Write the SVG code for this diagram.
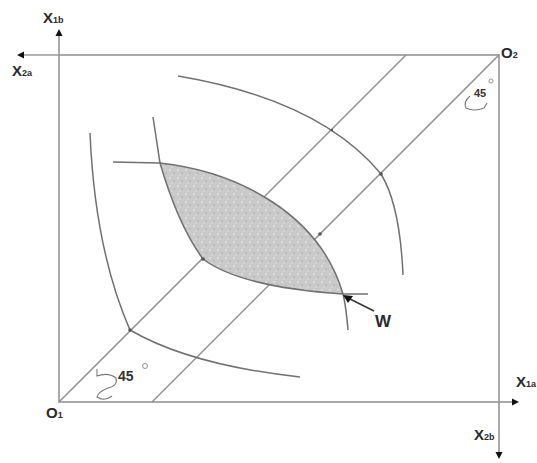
<svg xmlns="http://www.w3.org/2000/svg" width="537" height="463" viewBox="0 0 537 463">
<style>
.ln{fill:none;stroke:#8f8f8f;stroke-width:1.5}
.ax{fill:none;stroke:#9a9a9a;stroke-width:1.7}
.cv{fill:none;stroke:#707070;stroke-width:1.5}
.lbl{font-family:"Liberation Sans",Arial,sans-serif;font-size:15px;font-weight:bold;fill:#2a2a2a}
.sub{font-size:9px}
.ang{font-family:"Liberation Sans",Arial,sans-serif;font-size:14px;font-weight:bold;fill:#333}
.dot{fill:#555}
.hd{fill:#111}
</style>
<defs>
<pattern id="speck" width="8" height="8" patternUnits="userSpaceOnUse">
<rect width="8" height="8" fill="#c9c9c9"/>
<circle cx="2" cy="2" r="1" fill="#e2e2e2"/>
<circle cx="6" cy="5" r="0.9" fill="#b8b8b8"/>
<circle cx="4" cy="7" r="0.8" fill="#dedede"/>
</pattern>
</defs>
<rect width="537" height="463" fill="#fff"/>
<g id="box">
<rect class="ax" x="59" y="55" width="440" height="347"/>
<line class="ax" x1="59" y1="55" x2="59" y2="32"/>
<line class="ax" x1="59" y1="55" x2="20" y2="55"/>
<line class="ax" x1="499" y1="402" x2="516" y2="402"/>
<line class="ax" x1="499" y1="402" x2="499" y2="456"/>
<path class="hd" d="M59,29 L55.5,36 L62.5,36 Z"/>
<path class="hd" d="M17,55 L24,51.5 L24,58.5 Z"/>
<path class="hd" d="M519,402 L512,398.5 L512,405.5 Z"/>
<path class="hd" d="M499,459 L495.5,452 L502.5,452 Z"/>
</g>
<g id="connectors">
<line class="ln" x1="59" y1="402" x2="406" y2="55"/>
<line class="ln" x1="499" y1="55" x2="152" y2="402"/>
</g>
<g id="lens">
<path d="M160,163 C240,172 320,215 343,294 Q240,287 203,259 Q178,225 160,163 Z" fill="url(#speck)" stroke="none"/>
</g>
<g id="curves">
<path class="cv" d="M178,76 Q320,100 381,174 Q400,205 403,275"/>
<path class="cv" d="M90,133 Q95,250 130,330 Q190,365 300,377"/>
<path class="cv" d="M113,162 L160,163 C240,172 320,215 343,294 C346,306 347,318 348,330"/>
<path class="cv" d="M153,117 L160,163 Q178,225 203,259 Q240,287 343,294 L368,294"/>
</g>
<g id="points">
<circle class="dot" cx="130" cy="330" r="1.8"/>
<circle class="dot" cx="203" cy="259" r="1.8"/>
<circle class="dot" cx="320" cy="234" r="1.8"/>
<circle class="dot" cx="381" cy="174" r="1.8"/>
<circle class="dot" cx="332" cy="130" r="1.2"/>
</g>
<g id="W">
<line x1="348" y1="298" x2="374" y2="311" stroke="#333" stroke-width="1.4"/>
<path class="hd" d="M343,295 L353,296 L348,303 Z"/>
<text class="lbl" x="375" y="327" style="font-size:17px">W</text>
</g>
<g id="labels">
<text class="lbl" x="43" y="23">X<tspan class="sub">1b</tspan></text>
<text class="lbl" x="12" y="76">X<tspan class="sub">2a</tspan></text>
<text class="lbl" x="501" y="58">O<tspan class="sub">2</tspan></text>
<text class="lbl" x="46" y="418">O<tspan class="sub">1</tspan></text>
<text class="lbl" x="516" y="387">X<tspan class="sub">1a</tspan></text>
<text class="lbl" x="474" y="440">X<tspan class="sub">2b</tspan></text>
</g>
<g id="angle1">
<text class="ang" x="118" y="381">45</text>
<circle cx="145" cy="366" r="2.5" fill="none" stroke="#777" stroke-width="0.8"/>
<path d="M97,369 L97,376 Q108,372 116,378 Q118,386 108,388 Q98,392 97,397 Q104,402 112,396" fill="none" stroke="#777" stroke-width="1.1"/>
</g>
<g id="angle2">
<text class="ang" x="474" y="97" style="font-size:11px">45</text>
<circle cx="491" cy="81" r="2" fill="none" stroke="#777" stroke-width="0.8"/>
<path d="M470,96 Q463,102 466,108 Q474,112 484,108 L487,103" fill="none" stroke="#777" stroke-width="1.1"/>
</g>
</svg>
